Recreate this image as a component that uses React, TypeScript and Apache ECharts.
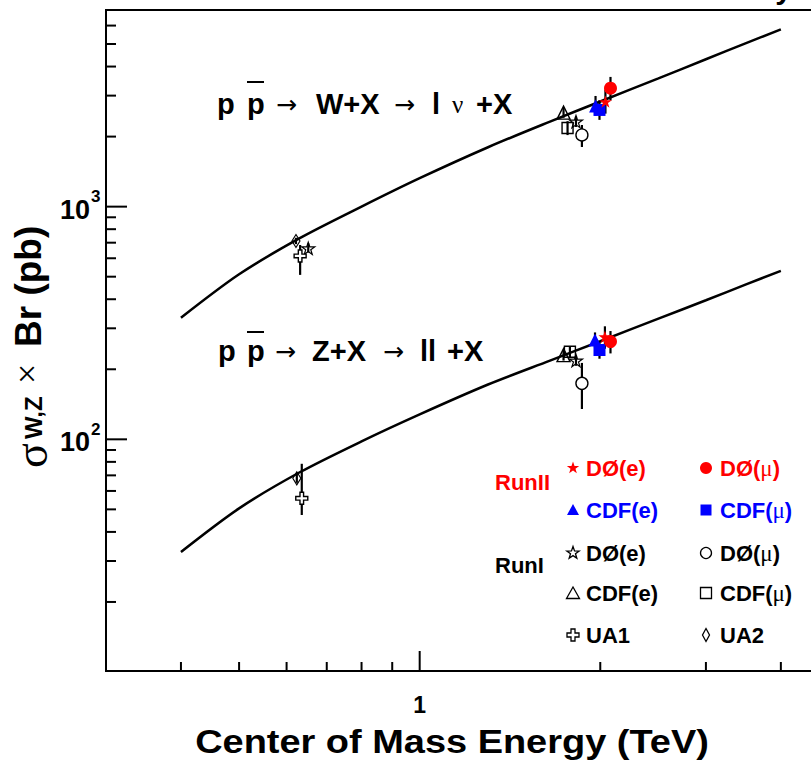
import React, { useEffect, useRef } from 'react';
import * as echarts from 'echarts';

const X_MIN = 0.3;
const X_MAX = 5;
const Y_MIN = 10.1;
const Y_MAX = 7000;

// theory curves
const curveEnergy = [0.4, 0.5, 0.63, 0.8, 1.0, 1.3, 1.649, 2.0, 2.5, 3.0, 3.5, 4.0];
const wCurveSigma = [333, 512, 730, 1000, 1325, 1800, 2320, 2830, 3560, 4300, 5040, 5780];
const zCurveSigma = [32.8, 50.5, 72, 98, 128, 172, 218, 264, 330, 396, 463, 530];

// measurements
const d0eRun2Energy = [2.04, 2.036];
const d0eRun2Sigma = [2828, 276];
const d0eRun2Low = [2510, 245];
const d0eRun2High = [3180, 306];

const d0muRun2Energy = [2.08, 2.08];
const d0muRun2Sigma = [3228, 263];
const d0muRun2Low = [2860, 234];
const d0muRun2High = [3610, 292];

const cdfeRun2Energy = [1.964, 1.96];
const cdfeRun2Sigma = [2710, 267];
const cdfeRun2Low = [2460, 247];
const cdfeRun2High = [2990, 288];

const cdfmuRun2Energy = [1.994, 1.994];
const cdfmuRun2Sigma = [2604, 242];
const cdfmuRun2Low = [2360, 222];
const cdfmuRun2High = [2870, 264];

const d0eRun1Energy = [0.652, 1.822, 1.822];
const d0eRun1Sigma = [662, 2319, 218];
const d0eRun1Low = [635, 2200, 207];
const d0eRun1High = [695, 2440, 229];

const d0muRun1Energy = [1.864, 1.864];
const d0muRun1Sigma = [2033, 174];
const d0muRun1Low = [1804, 135];
const d0muRun1High = [2243, 213];

const cdfeRun1Energy = [1.737, 1.737];
const cdfeRun1Sigma = [2535, 230];
const cdfeRun1Low = [2410, 218];
const cdfeRun1High = [2660, 242];

const cdfmuRun1Energy = [1.764, 1.78];
const cdfmuRun1Sigma = [2178, 238];
const cdfmuRun1Low = [2030, 225];
const cdfmuRun1High = [2330, 251];

const ua1Energy = [0.632, 0.636];
const ua1Sigma = [614, 55.8];
const ua1Low = [509, 47.3];
const ua1High = [684, 78.5];

const ua2Energy = [0.622, 0.624];
const ua2Sigma = [712, 68];
const ua2Low = [690, 65];
const ua2High = [735, 71];

// ticks
const yMajorTicks = [100, 1000];
const yMinorTicks = [20, 30, 40, 50, 60, 70, 80, 90, 200, 300, 400, 500, 600, 700, 800, 900, 2000, 3000, 4000, 5000, 6000];
const yTickBase = ['10', '10'];
const yTickExp = ['2', '3'];
const xMajorTicks = [1];
const xMinorTicks = [0.4, 0.5, 0.6, 0.7, 0.8, 0.9, 2, 3, 4];
const xTickLabels = ['1'];

const SANS = "'Liberation Sans', Arial, Helvetica, sans-serif";
const SERIF = "'Liberation Serif', 'DejaVu Serif', serif";
const ARROW = "'DejaVu Sans', sans-serif";

const STAR = 'path://M50,0 L61.8,35.4 L99,35.4 L69,57.3 L80.4,92.7 L50,70.8 L19.6,92.7 L31,57.3 L1,35.4 L38.2,35.4 Z';
const CROSS = 'path://M35,0 H65 V35 H100 V65 H65 V100 H35 V65 H0 V35 H35 Z';

const RED = '#ff0000';
const BLUE = '#0000ff';

const experiments = [
  { energy: cdfeRun1Energy, sigma: cdfeRun1Sigma, low: cdfeRun1Low, high: cdfeRun1High, symbol: 'triangle', size: 13, fill: 'rgba(0,0,0,0)', stroke: '#000', lw: 1.4 },
  { energy: cdfmuRun1Energy, sigma: cdfmuRun1Sigma, low: cdfmuRun1Low, high: cdfmuRun1High, symbol: 'rect', size: 11, fill: 'rgba(0,0,0,0)', stroke: '#000', lw: 1.4 },
  { energy: d0eRun1Energy, sigma: d0eRun1Sigma, low: d0eRun1Low, high: d0eRun1High, symbol: STAR, size: 13, fill: 'rgba(0,0,0,0)', stroke: '#000', lw: 1.2 },
  { energy: d0muRun1Energy, sigma: d0muRun1Sigma, low: d0muRun1Low, high: d0muRun1High, symbol: 'circle', size: 12, fill: '#fff', stroke: '#000', lw: 1.4 },
  { energy: ua1Energy, sigma: ua1Sigma, low: ua1Low, high: ua1High, symbol: CROSS, size: 12, fill: '#fff', stroke: '#000', lw: 1.4 },
  { energy: ua2Energy, sigma: ua2Sigma, low: ua2Low, high: ua2High, symbol: 'diamond', size: [8, 13], fill: 'rgba(0,0,0,0)', stroke: '#000', lw: 1.2 },
  { energy: cdfeRun2Energy, sigma: cdfeRun2Sigma, low: cdfeRun2Low, high: cdfeRun2High, symbol: 'triangle', size: 13, fill: BLUE, stroke: BLUE, lw: 0 },
  { energy: cdfmuRun2Energy, sigma: cdfmuRun2Sigma, low: cdfmuRun2Low, high: cdfmuRun2High, symbol: 'rect', size: 12, fill: BLUE, stroke: BLUE, lw: 0 },
  { energy: d0eRun2Energy, sigma: d0eRun2Sigma, low: d0eRun2Low, high: d0eRun2High, symbol: STAR, size: 13, fill: RED, stroke: RED, lw: 0 },
  { energy: d0muRun2Energy, sigma: d0muRun2Sigma, low: d0muRun2Low, high: d0muRun2High, symbol: 'circle', size: 13, fill: RED, stroke: RED, lw: 0 },
];

// legend
const legendLeft = ['DØ(e)', 'CDF(e)', 'DØ(e)', 'CDF(e)', 'UA1'];
const legendRight = ['DØ(μ)', 'CDF(μ)', 'DØ(μ)', 'CDF(μ)', 'UA2'];
const legendColors = [RED, BLUE, '#000', '#000', '#000'];

function pairs(a: number[], b: number[]) {
  return a.map((v, i) => [v, b[i]]);
}

function T(text: string, x: number, y: number, size: number, opts: any = {}) {
  return {
    type: 'text',
    x,
    y,
    scaleX: opts.scaleX || 1,
    silent: true,
    style: {
      text,
      fill: opts.fill || '#000',
      fontSize: size,
      fontWeight: opts.weight || 'bold',
      fontFamily: opts.family || SANS,
      align: opts.align || 'left',
      textAlign: opts.align || 'left',
      verticalAlign: opts.va || 'middle',
      textVerticalAlign: opts.va || 'middle',
      rich: opts.rich,
    },
  };
}

function richLabel(label: string) {
  return label
    .split('μ')
    .map((s) => (s ? `{b|${s}}` : ''))
    .join('{m|μ}');
}

function starPts(cx: number, cy: number, R: number) {
  const pts: number[][] = [];
  for (let i = 0; i < 10; i++) {
    const r = i % 2 === 0 ? R : R * 0.4;
    const a = -Math.PI / 2 + (i * Math.PI) / 5;
    pts.push([cx + r * Math.cos(a), cy + r * Math.sin(a)]);
  }
  return pts;
}

function buildOption() {
  const series: any[] = [];
  series.push({
    type: 'line',
    data: pairs(curveEnergy, wCurveSigma),
    showSymbol: false,
    symbol: 'none',
    smooth: 0.3,
    lineStyle: { color: '#000', width: 2.5 },
    z: 2,
    silent: true,
  });
  series.push({
    type: 'line',
    data: pairs(curveEnergy, zCurveSigma),
    showSymbol: false,
    symbol: 'none',
    smooth: 0.3,
    lineStyle: { color: '#000', width: 2.5 },
    z: 2,
    silent: true,
  });

  const errRender = (params: any, api: any) => {
    const x = api.value(0);
    const a = api.coord([x, api.value(1)]);
    const b = api.coord([x, api.value(2)]);
    return {
      type: 'line',
      shape: { x1: a[0], y1: a[1], x2: b[0], y2: b[1] },
      style: { stroke: '#000', lineWidth: 2.2 },
    };
  };

  experiments.forEach((ex) => {
    series.push({
      type: 'custom',
      coordinateSystem: 'cartesian2d',
      data: ex.energy.map((e, i) => [e, ex.low[i], ex.high[i]]),
      encode: { x: 0, y: [1, 2] },
      renderItem: errRender,
      clip: false,
      silent: true,
      z: 3,
    });
  });
  experiments.forEach((ex) => {
    series.push({
      type: 'scatter',
      data: pairs(ex.energy, ex.sigma),
      symbol: ex.symbol,
      symbolSize: ex.size,
      symbolKeepAspect: true,
      itemStyle: { color: ex.fill, borderColor: ex.stroke, borderWidth: ex.lw, opacity: 1 },
      silent: true,
      z: 4,
    });
  });

  // axis ticks
  const yTick = (len: number) => (params: any, api: any) => {
    const p = api.coord([X_MIN, api.value(1)]);
    return { type: 'line', shape: { x1: p[0], y1: p[1], x2: p[0] + len, y2: p[1] }, style: { stroke: '#000', lineWidth: 2 } };
  };
  const xTick = (len: number) => (params: any, api: any) => {
    const p = api.coord([api.value(0), Y_MIN]);
    return { type: 'line', shape: { x1: p[0], y1: p[1], x2: p[0], y2: p[1] - len }, style: { stroke: '#000', lineWidth: 2 } };
  };
  series.push({ type: 'custom', data: yMajorTicks.map((v) => [X_MIN, v]), encode: { x: 0, y: 1 }, renderItem: yTick(21), clip: false, silent: true, z: 6 });
  series.push({ type: 'custom', data: yMinorTicks.map((v) => [X_MIN, v]), encode: { x: 0, y: 1 }, renderItem: yTick(10), clip: false, silent: true, z: 6 });
  series.push({ type: 'custom', data: xMajorTicks.map((v) => [v, Y_MIN]), encode: { x: 0, y: 1 }, renderItem: xTick(20), clip: false, silent: true, z: 6 });
  series.push({ type: 'custom', data: xMinorTicks.map((v) => [v, Y_MIN]), encode: { x: 0, y: 1 }, renderItem: xTick(9), clip: false, silent: true, z: 6 });

  // tick labels
  series.push({
    type: 'custom',
    data: yMajorTicks.map((v) => [X_MIN, v]),
    encode: { x: 0, y: 1 },
    clip: false,
    silent: true,
    z: 6,
    renderItem: (params: any, api: any) => {
      const p = api.coord([X_MIN, api.value(1)]);
      const i = params.dataIndex;
      return {
        type: 'group',
        children: [
          { type: 'text', x: p[0] - 16, y: p[1] + 3, style: { text: yTickBase[i], fill: '#000', fontSize: 27, fontWeight: 'bold', fontFamily: SANS, align: 'right', verticalAlign: 'middle' } },
          { type: 'text', x: p[0] - 15, y: p[1] - 10, style: { text: yTickExp[i], fill: '#000', fontSize: 17, fontWeight: 'bold', fontFamily: SANS, align: 'left', verticalAlign: 'middle' } },
        ],
      };
    },
  });
  series.push({
    type: 'custom',
    data: xMajorTicks.map((v) => [v, Y_MIN]),
    encode: { x: 0, y: 1 },
    clip: false,
    silent: true,
    z: 6,
    renderItem: (params: any, api: any) => {
      const p = api.coord([api.value(0), Y_MIN]);
      return { type: 'text', x: p[0], y: p[1] + 34, style: { text: xTickLabels[params.dataIndex], fill: '#000', fontSize: 23, fontWeight: 'bold', fontFamily: SANS, align: 'center', verticalAlign: 'middle' } };
    },
  });

  const graphic: any[] = [];
  // axis titles
  graphic.push(T('Center of Mass Energy (TeV)', 452, 742, 33, { align: 'center', scaleX: 1.15 }));
  graphic.push({
    type: 'group',
    x: 0,
    y: 470,
    rotation: Math.PI / 2,
    children: [
      T('σ', 2, 31, 46, { weight: 'normal', family: SERIF }),
      T('W,Z', 31, 33, 24),
      T('×', 86, 27, 36, { weight: 'normal', family: SERIF }),
      T('Br (pb)', 123, 28, 37),
    ],
  });
  // top-right text, cut by the page edge as in the reference
  graphic.push(T('DØ Run II Preliminary', 792, 3, 30, { align: 'right', va: 'bottom' }));

  // process annotations
  const procW: [string, number, boolean][] = [
    ['p', 217, false], ['p', 247, false], ['→', 276, true], ['W+X', 316, false], ['→', 394, true], ['l', 432, false], ['ν', 452, true], ['+X', 476, false],
  ];
  procW.forEach(([t, x, sym]) =>
    graphic.push(T(t, x, 104, sym ? 25 : 29, sym ? { weight: 'normal', family: t === '→' ? ARROW : SERIF } : {}))
  );
  graphic.push({ type: 'line', silent: true, shape: { x1: 247, y1: 82, x2: 264, y2: 82 }, style: { stroke: '#000', lineWidth: 2 } });
  const procZ: [string, number, boolean][] = [
    ['p', 218, false], ['p', 247, false], ['→', 275, true], ['Z+X', 312, false], ['→', 383, true], ['ll', 420, false], ['+X', 447, false],
  ];
  procZ.forEach(([t, x, sym]) =>
    graphic.push(T(t, x, 351, sym ? 25 : 29, sym ? { weight: 'normal', family: ARROW } : {}))
  );
  graphic.push({ type: 'line', silent: true, shape: { x1: 247, y1: 332, x2: 264, y2: 332 }, style: { stroke: '#000', lineWidth: 2 } });

  // legend
  const rowY = [468, 510, 553, 593, 635];
  graphic.push(T('RunII', 495, 482, 22, { fill: RED }));
  graphic.push(T('RunI', 495, 565, 22));
  const rich = { b: { fontWeight: 'bold', fontSize: 22, fontFamily: SANS }, m: { fontWeight: 'normal', fontSize: 23, fontFamily: SERIF } };
  rowY.forEach((y, i) => {
    graphic.push(T(richLabel(legendLeft[i]), 586, y, 22, { fill: legendColors[i], rich }));
    graphic.push(T(richLabel(legendRight[i]), 720, y, 22, { fill: legendColors[i], rich }));
  });
  const cx1 = 573;
  const cx2 = 706;
  const open = { fill: 'none', stroke: '#000', lineWidth: 1.3 };
  graphic.push({ type: 'polygon', silent: true, shape: { points: starPts(cx1, rowY[0], 6.5) }, style: { fill: RED } });
  graphic.push({ type: 'circle', silent: true, shape: { cx: cx2, cy: rowY[0], r: 6 }, style: { fill: RED } });
  graphic.push({ type: 'polygon', silent: true, shape: { points: [[cx1, rowY[1] - 6], [cx1 + 6, rowY[1] + 5], [cx1 - 6, rowY[1] + 5]] }, style: { fill: BLUE } });
  graphic.push({ type: 'rect', silent: true, shape: { x: cx2 - 5.5, y: rowY[1] - 5.5, width: 11, height: 11 }, style: { fill: BLUE } });
  graphic.push({ type: 'polygon', silent: true, shape: { points: starPts(cx1, rowY[2], 6.5) }, style: open });
  graphic.push({ type: 'circle', silent: true, shape: { cx: cx2, cy: rowY[2], r: 5.5 }, style: open });
  graphic.push({ type: 'polygon', silent: true, shape: { points: [[cx1, rowY[3] - 6], [cx1 + 6.5, rowY[3] + 5.5], [cx1 - 6.5, rowY[3] + 5.5]] }, style: open });
  graphic.push({ type: 'rect', silent: true, shape: { x: cx2 - 5.5, y: rowY[3] - 5.5, width: 11, height: 11 }, style: open });
  graphic.push({
    type: 'polygon',
    silent: true,
    shape: {
      points: [
        [cx1 - 2, rowY[4] - 6], [cx1 + 2, rowY[4] - 6], [cx1 + 2, rowY[4] - 2], [cx1 + 6, rowY[4] - 2], [cx1 + 6, rowY[4] + 2], [cx1 + 2, rowY[4] + 2],
        [cx1 + 2, rowY[4] + 6], [cx1 - 2, rowY[4] + 6], [cx1 - 2, rowY[4] + 2], [cx1 - 6, rowY[4] + 2], [cx1 - 6, rowY[4] - 2], [cx1 - 2, rowY[4] - 2],
      ],
    },
    style: open,
  });
  graphic.push({ type: 'polygon', silent: true, shape: { points: [[cx2, rowY[4] - 6.5], [cx2 + 3.5, rowY[4]], [cx2, rowY[4] + 6.5], [cx2 - 3.5, rowY[4]]] }, style: open });

  return {
    animation: false,
    backgroundColor: '#fff',
    grid: {
      left: 106,
      top: 10,
      width: 733,
      height: 661,
      show: true,
      borderColor: '#000',
      borderWidth: 2,
      backgroundColor: 'rgba(0,0,0,0)',
      containLabel: false,
      outerBoundsMode: 'none',
    },
    xAxis: {
      type: 'log',
      logBase: 10,
      min: X_MIN,
      max: X_MAX,
      axisLine: { show: false },
      axisTick: { show: false },
      axisLabel: { show: false },
      splitLine: { show: false },
    },
    yAxis: {
      type: 'log',
      logBase: 10,
      min: Y_MIN,
      max: Y_MAX,
      axisLine: { show: false },
      axisTick: { show: false },
      axisLabel: { show: false },
      splitLine: { show: false },
    },
    series,
    graphic,
  };
}

export default function App() {
  const ref = useRef<HTMLDivElement>(null);
  useEffect(() => {
    const chart = echarts.init(ref.current as HTMLDivElement, null, { renderer: 'svg' });
    chart.setOption(buildOption() as any);
    return () => chart.dispose();
  }, []);
  return <div ref={ref} style={{ position: 'absolute', left: 0, top: 0, width: 811, height: 761, background: '#fff' }} />;
}
